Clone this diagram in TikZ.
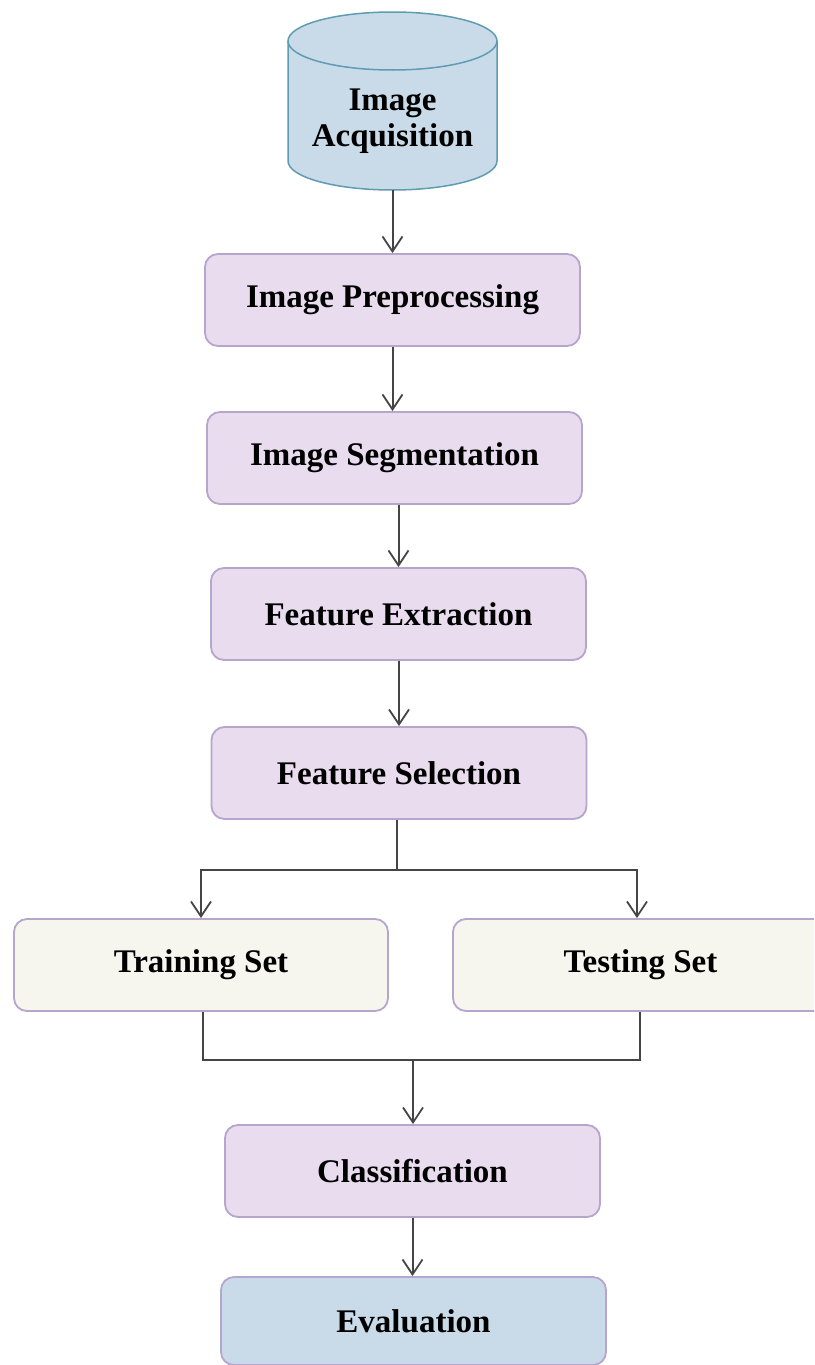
\documentclass[tikz,border=0pt]{standalone}
\usepackage{fontspec}
\setmainfont{Liberation Serif}
\usetikzlibrary{arrows.meta,calc}
\definecolor{boxfill}{HTML}{E8DCEE}
\definecolor{boxline}{HTML}{B6A5CC}
\definecolor{setfill}{HTML}{F6F6EE}
\definecolor{bluefill}{HTML}{C9DBE8}
\definecolor{cylline}{HTML}{5F9CB2}
\definecolor{wire}{HTML}{454545}
\tikzset{
  stage/.style={draw=boxline, line width=1.8pt, fill=boxfill, rounded corners=13pt,
    minimum width=375pt, minimum height=92pt, inner sep=0pt,
    font=\fontsize{33}{38}\selectfont\bfseries},
  setbox/.style={stage, fill=setfill},
  evalbox/.style={stage, fill=bluefill, minimum width=385pt, minimum height=88pt},
  wireline/.style={draw=wire, line width=2pt},
  arr/.style={wireline, -{Straight Barb[length=15pt,width=20pt,line width=1.8pt]}}
}
\begin{document}
\begin{tikzpicture}[x=1pt,y=-1pt]
\useasboundingbox (0,0) rectangle (814,1365);
\clip (0,0) rectangle (814,1365);
\fill[white] (0,0) rectangle (814,1365);

% storage cylinder (y axis points down, so the lower rim runs from 180 to 0 degrees)
\fill[bluefill] (288,41) -- (288,161) arc[start angle=180,end angle=0,x radius=104.5,y radius=29]
  -- (497,41) arc[start angle=0,end angle=-180,x radius=104.5,y radius=29] -- cycle;
\draw[cylline, line width=1.5pt] (288,41) -- (288,161) arc[start angle=180,end angle=0,x radius=104.5,y radius=29]
  -- (497,41);
\draw[cylline, line width=1.5pt] (392.5,41) ellipse[x radius=104.5, y radius=29];
\node[font=\fontsize{33}{36}\selectfont\bfseries, align=center] (acq) at (392.5,121) {Image\\Acquisition};
\coordinate (acqbot) at (392.5,190);

% processing stages
\node[stage] (pre) at (392.5,300) {Image Preprocessing};
\node[stage] (seg) at (394.5,458) {Image Segmentation};
\node[stage] (ext) at (398.5,614) {Feature Extraction};
\node[stage] (sel) at (399,773) {Feature Selection};
\node[setbox, minimum width=374pt] (train) at (201,965) {Training Set};
\node[setbox] (test) at (640.5,965) {Testing Set};
\node[stage] (cls) at (412.5,1171) {Classification};
\node[evalbox] (eval) at (413.5,1321) {Evaluation};

% flow
\draw[arr] (acqbot) -- (pre.north |- acqbot) -- (pre.north);
\draw[arr] (pre.south) -- (pre.south |- seg.north);
\draw[arr] (ext.north |- seg.south) -- (ext.north);
\draw[arr] (sel.north |- ext.south) -- (sel.north);

\coordinate (split) at (397,870);
\draw[wireline] (sel.south -| split) -- (split);
\draw[arr] (split) -| (train.north);
\draw[arr] (split) -| ($(test.north)+(-3.5,0)$);

\coordinate (merge) at (413,1060);
\draw[wireline] ($(train.south)+(2,0)$) |- (merge);
\draw[wireline] ($(test.south)+(-0.5,0)$) |- (merge);
\draw[arr] (merge) -- (merge |- cls.north);
\draw[arr] (cls.south) -- (cls.south |- eval.north);
\end{tikzpicture}
\end{document}
